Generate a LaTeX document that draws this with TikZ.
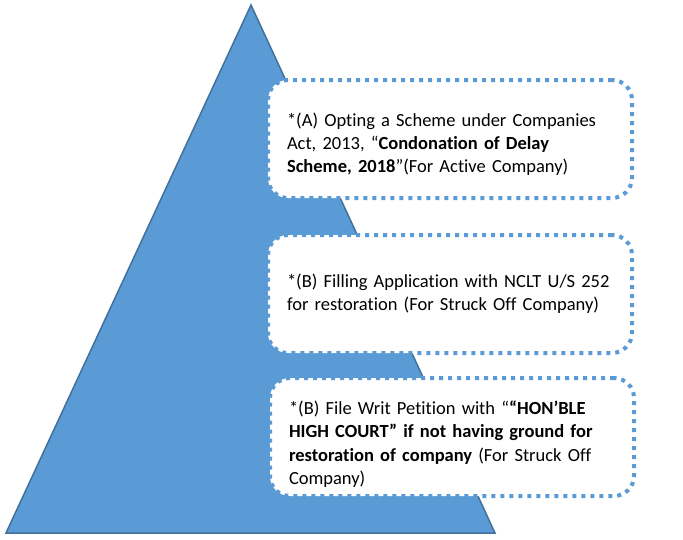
\documentclass[tikz,border=0pt]{standalone}
\usepackage{fontspec}
\setmainfont{Carlito}[Ligatures=NoCommon]
\usepackage{xcolor}
\usetikzlibrary{positioning}

\definecolor{pyrfill}{HTML}{5B9BD5}
\definecolor{pyredge}{HTML}{41719C}

\newcommand{\topgap}[1]{\rule{0pt}{#1}}

\tikzset{
  stepbox/.style={draw=pyrfill, fill=white, line width=4pt,
    dash pattern=on 4pt off 5pt, rounded corners=20pt,
    minimum width=364pt, text width=326pt, align=left,
    inner xsep=19pt, font=\fontsize{18.5}{23.3}\selectfont},
}

\begin{document}
\begin{tikzpicture}[x=1pt,y=-1pt,node distance=33pt]
   \useasboundingbox (0,0) rectangle (683,539);
   \coordinate (apex) at (251,5);
   \coordinate (bl) at (6,533);
   \coordinate (br) at (495,533);
   \draw[fill=pyrfill, draw=pyredge, line width=1.5pt] (apex) -- (br) -- (bl) -- cycle;

   \node[stepbox, minimum height=118pt] (optA) at (450,139)
     {\topgap{24pt}*(A) Opting a Scheme under Companies\\
      Act, 2013, “\textbf{Condonation of Delay}\\
      \textbf{Scheme, 2018}”(For Active Company)};
   \node[stepbox, minimum height=118pt] (optB) [below=of optA]
     {*(B) Filling Application with NCLT U/S 252\\
      for restoration (For Struck Off Company)};
   \node[stepbox, minimum height=118pt] (optC) [below=21pt of optB, xshift=2pt]
     {\topgap{28pt}*(B) File Writ Petition with “\textbf{“HON’BLE}\\
      \textbf{HIGH COURT” if not having ground for}\\
      \textbf{restoration of company} (For Struck Off\\
      Company)};
\end{tikzpicture}
\end{document}
